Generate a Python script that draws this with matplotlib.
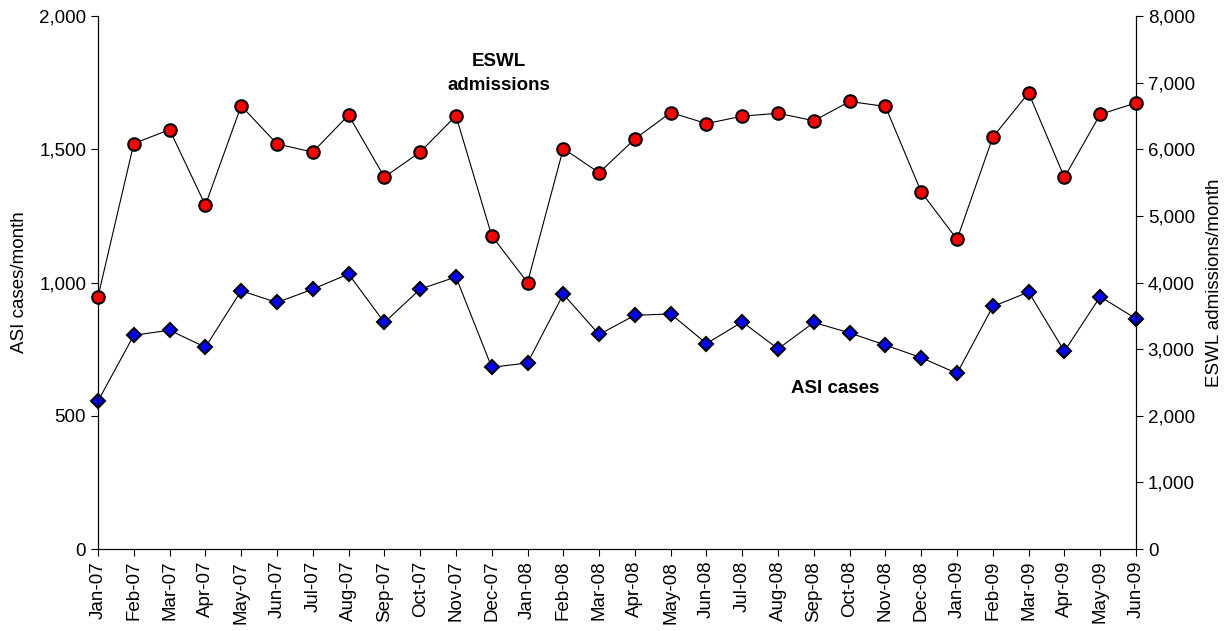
import matplotlib.pyplot as plt
from matplotlib.ticker import FuncFormatter, MultipleLocator

plt.rcParams['font.family'] = ['Liberation Sans', 'DejaVu Sans']

months = ['Jan-07', 'Feb-07', 'Mar-07', 'Apr-07', 'May-07', 'Jun-07', 'Jul-07',
          'Aug-07', 'Sep-07', 'Oct-07', 'Nov-07', 'Dec-07', 'Jan-08', 'Feb-08',
          'Mar-08', 'Apr-08', 'May-08', 'Jun-08', 'Jul-08', 'Aug-08', 'Sep-08',
          'Oct-08', 'Nov-08', 'Dec-08', 'Jan-09', 'Feb-09', 'Mar-09', 'Apr-09',
          'May-09', 'Jun-09']

asi_cases = [555, 802, 821, 757, 969, 925, 975, 1032, 850, 975,
             1021, 682, 698, 956, 805, 877, 882, 771, 852, 751,
             850, 811, 765, 718, 659, 910, 964, 742, 947, 864]

eswl_admissions = [3786, 6086, 6294, 5160, 6652, 6080, 5957, 6513, 5583, 5957,
                   6503, 4701, 4000, 6011, 5647, 6155, 6551, 6385, 6497, 6540,
                   6428, 6717, 6642, 5358, 4647, 6182, 6845, 5578, 6524, 6695]

x = list(range(len(months)))
comma = FuncFormatter(lambda v, p: f'{int(v):,}')

fig = plt.figure(figsize=(12.32, 6.31), dpi=100)
ax = fig.add_axes([98 / 1232, 1 - 549 / 631, (1136 - 98) / 1232, (549 - 16) / 631])
ax2 = ax.twinx()

ax.plot(x, asi_cases, color='black', linewidth=0.8, marker='D', markersize=7,
        markerfacecolor='#0000ff', markeredgecolor='black', markeredgewidth=1.5,
        zorder=3, clip_on=False)
ax2.plot(x, eswl_admissions, color='black', linewidth=0.8, marker='o', markersize=9,
         markerfacecolor='#ff0000', markeredgecolor='black', markeredgewidth=1.5,
         zorder=3, clip_on=False)

ax.set_xlim(0, len(months) - 1)
ax.set_ylim(0, 2000)
ax2.set_ylim(0, 8000)
ax.yaxis.set_major_locator(MultipleLocator(500))
ax2.yaxis.set_major_locator(MultipleLocator(1000))
ax.yaxis.set_major_formatter(comma)
ax2.yaxis.set_major_formatter(comma)

ax.set_xticks(x)
ax.set_xticklabels(months, rotation=90, fontsize=13.5)
ax.tick_params(axis='y', labelsize=13.5, direction='out', length=5)
ax.tick_params(axis='x', direction='out', length=5)
ax2.tick_params(axis='y', labelsize=13.5, direction='out', length=5)

ax.set_ylabel('ASI cases/month', fontsize=13.5, labelpad=8)
ax2.set_ylabel('ESWL admissions/month', fontsize=13.5, labelpad=8)

for a in (ax, ax2):
    a.spines['top'].set_visible(False)

# series labels
ax.text(11.2, 1831, 'ESWL', fontsize=13.5, fontweight='bold', ha='center', va='center')
ax.text(11.2, 1741, 'admissions', fontsize=13.5, fontweight='bold', ha='center', va='center')
ax.text(20.6, 604, 'ASI cases', fontsize=13.5, fontweight='bold', ha='center', va='center')

fig.savefig('out.png', dpi=100)
